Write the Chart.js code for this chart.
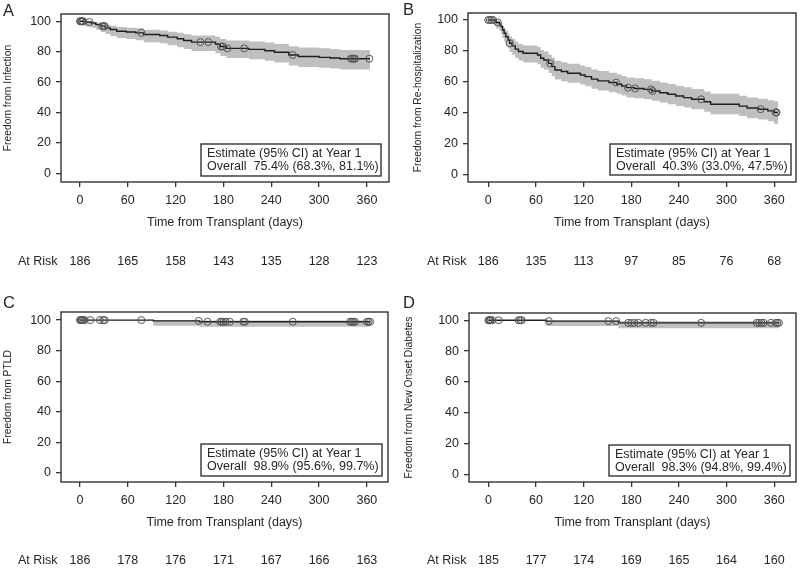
<!DOCTYPE html>
<html><head><meta charset="utf-8">
<script src="https://cdn.jsdelivr.net/npm/chart.js@4/dist/chart.umd.min.js"></script>
<style>
html,body{margin:0;padding:0;background:#fff}
body{width:800px;height:570px;position:relative;overflow:hidden}
canvas{position:absolute}
</style></head><body>
<canvas id="cA" width="400" height="290" style="left:0;top:0"></canvas>
<canvas id="cB" width="400" height="290" style="left:400px;top:0"></canvas>
<canvas id="cC" width="400" height="280" style="left:0;top:290px"></canvas>
<canvas id="cD" width="400" height="280" style="left:400px;top:290px"></canvas>
<script>
// ---------- shared axis ticks ----------
const tickDays = [0, 60, 120, 180, 240, 300, 360];
const yTicks = [0, 20, 40, 60, 80, 100];
const xTitle = "Time from Transplant (days)";
const legendTitle = "Estimate (95% CI) at Year 1";
const atRiskLabel = "At Risk";

// ---------- A: Infection ----------
const infDays  = [0, 6, 14, 20, 26, 32, 38, 46, 58, 70, 80, 100, 110, 122, 130, 140, 170, 176, 184, 212, 232, 244, 262, 274, 300, 314, 326, 364];
const infSurv  = [100, 99.5, 98.9, 97.8, 96.8, 95.7, 94.6, 93.5, 93.0, 92.4, 91.3, 90.7, 89.6, 88.5, 87.4, 86.3, 85.1, 83.4, 82.2, 81.5, 80.6, 79.6, 77.8, 76.8, 76.3, 75.9, 75.4, 75.4];
const infUpper = [100, 99.9, 99.7, 99.2, 98.6, 97.8, 97.0, 96.2, 95.8, 95.4, 94.5, 94.0, 93.2, 92.4, 91.5, 90.7, 89.8, 88.4, 87.3, 86.7, 86.0, 85.1, 83.6, 82.7, 82.3, 81.8, 81.1, 81.1];
const infLower = [100, 96.6, 95.8, 94.4, 93.0, 91.7, 90.3, 89.0, 88.3, 87.6, 86.2, 85.5, 84.2, 83.0, 81.7, 80.4, 79.0, 77.2, 75.8, 75.0, 74.0, 72.9, 71.0, 70.0, 69.4, 68.9, 68.3, 68.3];
const infCensor = [0, 1, 2, 3, 4, 12, 28, 30, 31, 77, 151, 161, 177, 179, 185, 206, 267, 340, 342, 344, 345, 363];
const infAtRisk = [186, 165, 158, 143, 135, 128, 123];
const infEstimate = "Overall  75.4% (68.3%, 81.1%)";

// ---------- B: Re-hospitalization ----------
const rehDays  = [0, 8, 10, 14, 16, 18, 20, 22, 25, 27, 30, 34, 38, 44, 62, 66, 70, 76, 80, 84, 92, 100, 116, 122, 130, 138, 152, 162, 168, 174, 184, 196, 206, 216, 226, 236, 246, 256, 272, 280, 316, 326, 340, 352, 360, 365];
const rehSurv  = [100, 99.5, 98.4, 97.3, 95.7, 93.5, 91.4, 89.2, 87.1, 85.0, 83.3, 81.2, 79.6, 78.5, 77.4, 75.3, 74.2, 72.0, 69.9, 67.7, 66.7, 65.6, 64.5, 63.4, 61.8, 60.7, 59.6, 58.5, 57.4, 56.3, 55.8, 55.2, 54.1, 53.0, 52.0, 50.9, 49.9, 48.8, 47.2, 45.6, 44.4, 43.2, 42.4, 41.3, 40.3, 40.3];
const rehUpper = [100, 99.9, 99.6, 99.0, 98.0, 96.5, 94.8, 93.0, 91.2, 89.3, 87.8, 85.9, 84.5, 83.5, 82.5, 80.6, 79.6, 77.6, 75.6, 73.6, 72.7, 71.7, 70.6, 69.6, 68.1, 67.0, 66.0, 64.9, 63.8, 62.8, 62.3, 61.7, 60.7, 59.6, 58.6, 57.5, 56.5, 55.4, 53.9, 52.3, 51.1, 49.9, 49.2, 48.1, 47.5, 47.5];
const rehLower = [100, 96.4, 94.5, 92.8, 90.8, 88.4, 86.0, 83.8, 81.6, 79.4, 77.6, 75.4, 73.8, 72.6, 71.4, 69.2, 68.0, 65.8, 63.7, 61.5, 60.5, 59.4, 58.3, 57.2, 55.6, 54.5, 53.4, 52.3, 51.2, 50.0, 49.5, 48.9, 47.8, 46.7, 45.6, 44.5, 43.5, 42.4, 40.8, 39.2, 38.0, 36.6, 35.8, 34.6, 33.0, 33.0];
const rehCensor = [0, 2, 4, 6, 12, 27, 78, 161, 176, 185, 205, 207, 268, 343, 362, 363];
const rehAtRisk = [186, 135, 113, 97, 85, 76, 68];
const rehEstimate = "Overall  40.3% (33.0%, 47.5%)";

// ---------- C: PTLD ----------
const ptlDays  = [0, 92, 150, 364];
const ptlSurv  = [100, 99.46, 98.9, 98.9];
const ptlUpper = [100, 99.9, 99.7, 99.7];
const ptlLower = [100, 96.3, 95.6, 95.6];
const ptlCensor = [0, 1, 2, 3, 4, 6, 13, 25, 29, 31, 77, 149, 160, 176, 178, 180, 183, 188, 205, 207, 267, 339, 341, 343, 345, 360, 362, 364];
const ptlAtRisk = [186, 178, 176, 171, 167, 166, 163];
const ptlEstimate = "Overall  98.9% (95.6%, 99.7%)";

// ---------- D: New Onset Diabetes ----------
const diaDays  = [0, 73, 164, 366];
const diaSurv  = [100, 99.45, 98.3, 98.3];
const diaUpper = [100, 99.9, 99.4, 99.4];
const diaLower = [100, 96.2, 94.8, 94.8];
const diaCensor = [0, 1, 2, 3, 5, 13, 38, 40, 42, 76, 151, 161, 176, 180, 184, 189, 198, 205, 208, 268, 338, 341, 344, 347, 356, 362, 364, 366];
const diaAtRisk = [185, 177, 174, 169, 165, 164, 160];
const diaEstimate = "Overall  98.3% (94.8%, 99.4%)";

// ---------- helpers ----------
const FONT = "'Liberation Sans', Arial, Helvetica, sans-serif";
const TXT = '#262626';
function pts(xs, ys) { return xs.map((x, i) => ({x: x, y: ys[i]})); }
function survAt(days, surv, t) {
  let v = surv[0];
  for (let i = 0; i < days.length; i++) { if (days[i] <= t) v = surv[i]; }
  return v;
}

const panels = [
  {id:'cA', letter:'A', yTitle:'Freedom from Infection', days:infDays, surv:infSurv, upper:infUpper, lower:infLower,
   censor:infCensor, atRisk:infAtRisk, est:infEstimate, W:400, H:290,
   area:{left:61, right:389, top:14, bottom:182}, xMin:-23.8, xMax:387.7, yMin:-5.7, yMax:104.8,
   titlePad:1.5, riskX:18, riskY:262, box:{x:201, y:144, w:180, h:32}, letterY:11},
  {id:'cB', letter:'B', yTitle:'Freedom from Re-hospitalization', days:rehDays, surv:rehSurv, upper:rehUpper, lower:rehLower,
   censor:rehCensor, atRisk:rehAtRisk, est:rehEstimate, W:400, H:290,
   area:{left:68, right:396, top:13, bottom:182}, xMin:-25.5, xMax:387.5, yMin:-4.6, yMax:104.5,
   titlePad:12, riskX:27, riskY:262, box:{x:210, y:144, w:181, h:31}, letterY:10},
  {id:'cC', letter:'C', yTitle:'Freedom from PTLD', days:ptlDays, surv:ptlSurv, upper:ptlUpper, lower:ptlLower,
   censor:ptlCensor, atRisk:ptlAtRisk, est:ptlEstimate, W:400, H:280,
   area:{left:61, right:388, top:22, bottom:192}, xMin:-23.8, xMax:386.5, yMin:-6.0, yMax:105.3,
   titlePad:1.5, riskX:18, riskY:271, box:{x:201, y:154, w:181, h:32}, letterY:13.5},
  {id:'cD', letter:'D', yTitle:'Freedom from New Onset Diabetes', days:diaDays, surv:diaSurv, upper:diaUpper, lower:diaLower,
   censor:diaCensor, atRisk:diaAtRisk, est:diaEstimate, W:400, H:280,
   area:{left:69, right:396, top:23, bottom:192}, xMin:-24.5, xMax:387.5, yMin:-5.0, yMax:104.7,
   titlePad:3, riskX:27, riskY:271, box:{x:209, y:155, w:181, h:31}, letterY:13.5}
];

const decor = {
  id: 'decor',
  afterDraw(chart, args, o) {
    const p = o.panel;
    const {ctx, chartArea: a} = chart;
    const x = chart.scales.x;
    ctx.save();
    // frame
    ctx.strokeStyle = '#333';
    ctx.lineWidth = 1.4;
    ctx.strokeRect(a.left, a.top, a.right - a.left, a.bottom - a.top);
    // legend box
    const b = p.box;
    ctx.fillStyle = '#fff';
    ctx.fillRect(b.x, b.y, b.w, b.h);
    ctx.strokeRect(b.x, b.y, b.w, b.h);
    ctx.fillStyle = TXT;
    ctx.font = '12.5px ' + FONT;
    ctx.textAlign = 'left';
    ctx.textBaseline = 'middle';
    ctx.fillText(legendTitle, b.x + 6, b.y + 10);
    ctx.fillText(p.est, b.x + 6, b.y + 23);
    // at risk row
    ctx.fillText(atRiskLabel, p.riskX, p.riskY);
    ctx.textAlign = 'center';
    p.atRisk.forEach((n, i) => {
      ctx.fillText(String(n), x.getPixelForValue(tickDays[i]), p.riskY);
    });
    // panel letter
    ctx.font = '16.5px ' + FONT;
    ctx.textAlign = 'left';
    ctx.fillText(p.letter, 3, p.letterY);
    ctx.restore();
  }
};

panels.forEach(p => {
  const ctx = document.getElementById(p.id).getContext('2d');
  const censorPts = p.censor.map(t => ({x: t, y: survAt(p.days, p.surv, t)}));
  new Chart(ctx, {
    type: 'line',
    data: {
      datasets: [
        {label: 'censor', type: 'scatter', data: censorPts, showLine: false, order: 0,
         pointStyle: 'circle', pointRadius: 3.5, pointBorderWidth: 1, pointBorderColor: '#555',
         pointBackgroundColor: 'rgba(0,0,0,0)'},
        {label: 'KM', data: pts(p.days, p.surv), stepped: true, order: 1, borderColor: '#1e1e1e',
         borderWidth: 1.4, pointRadius: 0, fill: false},
        {label: 'upper', data: pts(p.days, p.upper), stepped: true, order: 2, borderColor: 'rgba(0,0,0,0)',
         borderWidth: 0, pointRadius: 0, fill: false},
        {label: 'lower', data: pts(p.days, p.lower), stepped: true, order: 3, borderColor: 'rgba(0,0,0,0)',
         borderWidth: 0, pointRadius: 0, fill: 2, backgroundColor: '#bfbfbf'}
      ]
    },
    options: {
      responsive: false,
      animation: false,
      devicePixelRatio: 1,
      layout: {autoPadding: false,
               padding: {left: 0, top: p.area.top, right: p.W - p.area.right, bottom: p.H - p.area.bottom - 50}},
      plugins: {legend: {display: false}, tooltip: {enabled: false}, decor: {panel: p}},
      scales: {
        x: {
          type: 'linear', min: p.xMin, max: p.xMax,
          afterBuildTicks: s => { s.ticks = tickDays.map(v => ({value: v})); },
          afterFit: s => { s.height = 50; },
          grid: {drawOnChartArea: false, drawTicks: true, tickLength: 5, color: '#333', lineWidth: 1.3},
          border: {display: false},
          ticks: {color: TXT, font: {family: FONT, size: 12.5}, padding: 6, maxRotation: 0, autoSkip: false,
                  callback: v => String(v)},
          title: {display: true, text: xTitle, color: TXT, font: {family: FONT, size: 12.5},
                  padding: {top: 0, bottom: 1.5}}
        },
        y: {
          type: 'linear', min: p.yMin, max: p.yMax,
          afterBuildTicks: s => { s.ticks = yTicks.map(v => ({value: v})); },
          afterFit: s => { s.width = p.area.left; },
          grid: {drawOnChartArea: false, drawTicks: true, tickLength: 5, color: '#333', lineWidth: 1.3},
          border: {display: false},
          ticks: {color: TXT, font: {family: FONT, size: 12.5}, padding: 5, autoSkip: false,
                  callback: v => String(v)},
          title: {display: true, text: p.yTitle, color: TXT, font: {family: FONT, size: 10.3},
                  padding: {top: p.titlePad, bottom: 0}}
        }
      }
    },
    plugins: [decor]
  });
});
</script>
</body></html>
